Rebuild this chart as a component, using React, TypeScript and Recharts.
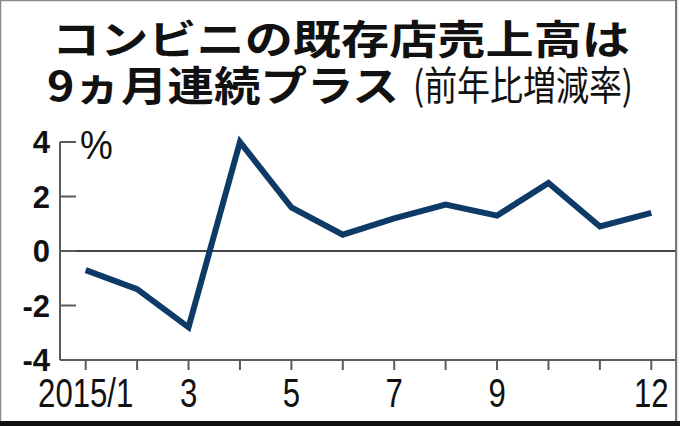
import React from 'react';
import { LineChart, Line, XAxis, YAxis, ReferenceLine } from 'recharts';

// 2015年 月次 既存店売上高 前年比(%)
const months = [1, 2, 3, 4, 5, 6, 7, 8, 9, 10, 11, 12];
const sales = [-0.7, -1.4, -2.8, 4.0, 1.6, 0.6, 1.2, 1.7, 1.3, 2.5, 0.9, 1.4];
const xLabels = ['2015/1', '', '3', '', '5', '', '7', '', '9', '', '', '12'];
const yTicks = [-4, -2, 0, 2, 4];

const data = months.map((m, i) => ({ m, v: sales[i] }));

const W = 680;
const H = 426;
const axisGray = '#5a5a5a';
const lineColor = '#0d3a66';

// narrow digits like the newspaper font: squeeze Liberation Sans horizontally
const MonthTick = ({ x, y, payload }: any) => (
  <g transform={`translate(${x},${y})`}>
    <text
      x={0}
      y={0}
      dy={30}
      textAnchor="middle"
      transform="scale(0.76,1)"
      fontFamily='"Liberation Sans", sans-serif'
      fontSize={41}
      fill="#111"
    >
      {xLabels[payload.value - 1]}
    </text>
  </g>
);

export default function App() {
  return (
    <div style={{ position: 'absolute', left: 0, top: 0, width: W, height: H, background: '#fff' }}>
      <LineChart
        width={W}
        height={H}
        data={data}
        margin={{ top: 142, right: 3, left: 0, bottom: 6 }}
      >
        <XAxis
          dataKey="m"
          type="number"
          domain={[0.5, 12.5]}
          ticks={months}
          interval={0}
          height={60}
          axisLine={{ stroke: axisGray, strokeWidth: 2 }}
          tickLine={{ stroke: axisGray, strokeWidth: 2 }}
          tickSize={10}
          tickMargin={7}
          tick={<MonthTick />}
        />
        <YAxis
          domain={[-4, 4]}
          ticks={yTicks}
          width={60}
          axisLine={{ stroke: axisGray, strokeWidth: 2 }}
          tickLine={{ stroke: axisGray, strokeWidth: 2 }}
          tickSize={-16}
          tickMargin={26}
          tick={{ fontFamily: '"Liberation Sans", sans-serif', fontSize: 31, fontWeight: 700, fill: '#111' }}
        />
        <ReferenceLine y={0} stroke="#444" strokeWidth={2} />
        <Line
          type="linear"
          dataKey="v"
          stroke={lineColor}
          strokeWidth={6}
          dot={false}
          isAnimationActive={false}
        />
      </LineChart>

      <svg
        width={W}
        height={H}
        style={{ position: 'absolute', left: 0, top: 0, pointerEvents: 'none' }}
      >
        <text
          x={52}
          y={54}
          textLength={578}
          lengthAdjust="spacingAndGlyphs"
          fontFamily='"Noto Sans CJK JP", sans-serif'
          fontWeight={700}
          fontSize={40}
          fill="#111"
        >
          コンビニの既存店売上高は
        </text>
        <text
          x={47}
          y={101}
          textLength={352}
          lengthAdjust="spacingAndGlyphs"
          fontFamily='"Noto Sans CJK JP", sans-serif'
          fontWeight={700}
          fontSize={41}
          fill="#111"
        >
          9ヵ月連続プラス
        </text>
        <text
          x={413}
          y={100}
          textLength={220}
          lengthAdjust="spacingAndGlyphs"
          fontFamily='"Noto Sans CJK JP", sans-serif'
          fontWeight={400}
          fontSize={40}
          fill="#111"
        >
          (前年比増減率)
        </text>
        <g transform="translate(80,159) scale(0.9,1)">
          <text x={0} y={0} fontFamily='"Liberation Sans", sans-serif' fontSize={41} fill="#111">
            %
          </text>
        </g>
        {/* frame */}
        <rect x={0.5} y={0.5} width={676} height={424} fill="none" stroke="#8a8a8a" strokeWidth={1.5} />
        <line x1={676} y1={0} x2={676} y2={H} stroke="#777" strokeWidth={2} />
        <rect x={0} y={421} width={W} height={5} fill="#111" />
      </svg>
    </div>
  );
}
